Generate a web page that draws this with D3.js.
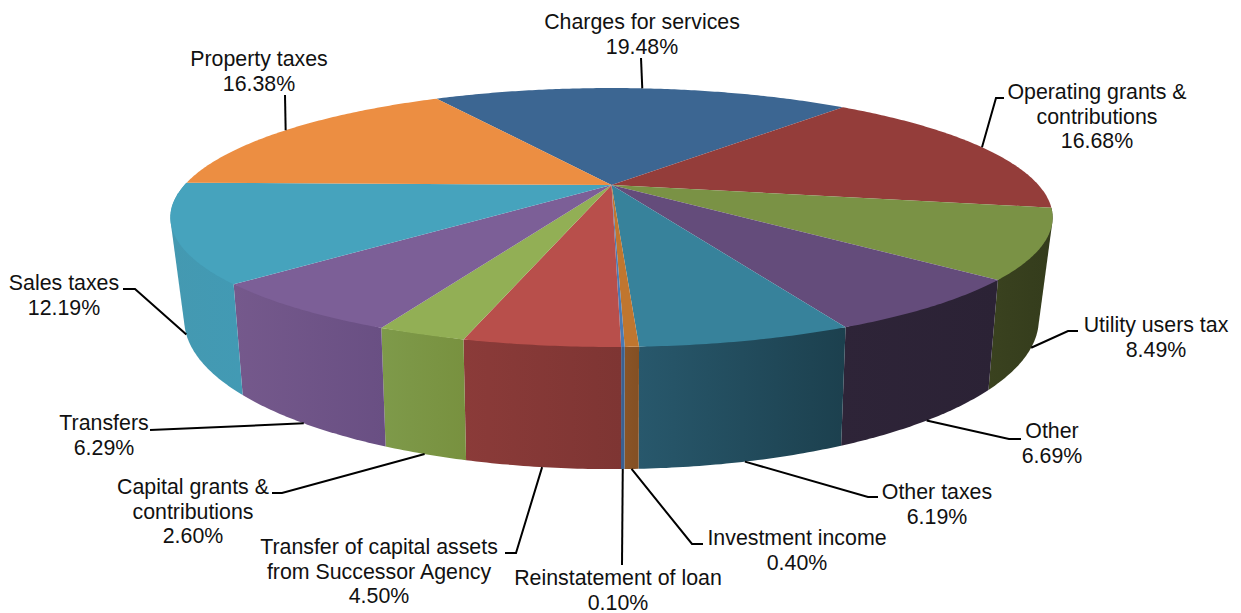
<!DOCTYPE html>
<html>
<head>
<meta charset="utf-8">
<style>
html,body{margin:0;padding:0;background:#fff;}
svg{display:block;}
text{font-family:"Liberation Sans",Arial,sans-serif;font-size:21.35px;fill:#111;}
</style>
<script src="https://cdn.jsdelivr.net/npm/d3@7/dist/d3.min.js"></script>
</head>
<body>
<svg id="chart" width="1241" height="613"></svg>
<script>
// Revenue shares, clockwise from the back of the disc
const categories = ["Charges for services","Operating grants & contributions","Utility users tax","Other","Other taxes","Investment income","Reinstatement of loan","Transfer of capital assets from Successor Agency","Capital grants & contributions","Transfers","Sales taxes","Property taxes"];
const shares = [19.48,16.68,8.49,6.69,6.19,0.40,0.10,4.50,2.60,6.29,12.19,16.38];

// Top-face fills and left/right side-wall fills
const topColors = ["#3c6692","#943d3a","#7a9245","#644c7b","#37829b","#c0762f","#4a7ab4","#b84f4b","#92af55","#7c5f97","#46a3bd","#ec8e42"];
const sideLeft = ["#2f4f72","#6d2d2b","#3a421f","#2e2438","#28586c","#8a5426","#3b6090","#8b3b39","#7e9a4a","#75598c","#4499b1","#b06a31"];
const sideRight = ["#2f4f72","#6d2d2b","#343c1c","#2b2235","#1c404e","#835024","#3b6090","#7e3533","#78913f","#694f83","#429ab4","#b06a31"];

// Text lines of each label
const labelLines = [
  ["Charges for services","19.48%"],
  ["Operating grants &","contributions","16.68%"],
  ["Utility users tax","8.49%"],
  ["Other","6.69%"],
  ["Other taxes","6.19%"],
  ["Investment income","0.40%"],
  ["Reinstatement of loan","0.10%"],
  ["Transfer of capital assets","from Successor Agency","4.50%"],
  ["Capital grants &","contributions","2.60%"],
  ["Transfers","6.29%"],
  ["Sales taxes","12.19%"],
  ["Property taxes","16.38%"]
];
// Label placement: text centre, first baseline, and leader bends
const labelCx = [642,1097,1156,1052,937,797,618,379,193,104,64,259];
const labelY = [29,99,332,438,499,545,585,554,494,430,290,66];
const leaderBends = [
  [[641,58]],
  [[996,98],[1004,98]],
  [[1068,331],[1078,331]],
  [[1009,439],[1021,439]],
  [[868,497],[878,497]],
  [[692,544],[703,544]],
  [[622,565]],
  [[516,553],[505,553]],
  [[282,493],[272,493]],
  [[150,430]],
  [[135,289],[123,289]],
  [[285,95]]
];

const cx = 611.5;
// Perspective parameters of the upper and lower discs
const upper = {y0:185, A:121.3, B:427, k:0.251};
const lower = {y0:280, A:139, B:412, k:0.265};
const project = (disc, a) => {
  const u = Math.sin(a), v = -Math.cos(a), w = 1 - disc.k * v;
  return [cx + disc.B * u / w, disc.y0 + disc.A * v / w];
};
const arcPoints = (disc, a0, a1) => {
  const n = Math.max(2, Math.ceil((a1 - a0) / 0.01));
  return d3.range(n + 1).map(i => project(disc, a0 + (a1 - a0) * i / n));
};

const startAngle = -29.9 * Math.PI / 180;
const pie = d3.pie().sort(null).startAngle(startAngle).endAngle(startAngle + 2 * Math.PI);
const slices = pie(shares);
const line = d3.line();
const svg = d3.select("#chart");
const defs = svg.append("defs");
const midAngle = s => (s.startAngle + s.endAngle) / 2;

// Side walls for the slices on the near half; the hull also fills the silhouette
// where the wall turns away, and the top face covers what it adds above the rim
const walls = svg.append("g");
slices.forEach((s, i) => {
  if (Math.cos(midAngle(s)) >= 0) return;
  const pts = arcPoints(upper, s.startAngle, s.endAngle).concat(arcPoints(lower, s.startAngle, s.endAngle));
  const xs = d3.extent(pts, p => p[0]);
  const g = defs.append("linearGradient").attr("id", "wall" + i)
    .attr("gradientUnits", "userSpaceOnUse")
    .attr("x1", xs[0]).attr("x2", xs[1]).attr("y1", 0).attr("y2", 0);
  g.append("stop").attr("offset", 0).attr("stop-color", sideLeft[i]);
  g.append("stop").attr("offset", 1).attr("stop-color", sideRight[i]);
  walls.append("path").attr("d", line(d3.polygonHull(pts)) + "Z").attr("fill", `url(#wall${i})`);
});

// Top face wedges
svg.append("g").selectAll("path").data(slices).join("path")
  .attr("fill", (d, i) => topColors[i])
  .attr("d", d => line([[cx, upper.y0]].concat(arcPoints(upper, d.startAngle, d.endAngle))) + "Z");

// Leaders start on the rim at each slice's mid angle
const leaders = svg.append("g").attr("fill", "none").attr("stroke", "#000").attr("stroke-width", 2);
slices.forEach((s, i) => {
  const mid = midAngle(s);
  const facing = Math.cos(mid) < -0.05;
  leaders.append("path").attr("d", line([project(facing ? lower : upper, mid)].concat(leaderBends[i])));
});

// Labels
const labels = svg.append("g").attr("text-anchor", "middle");
labelLines.forEach((lines, i) => {
  const t = labels.append("text").attr("x", labelCx[i]).attr("y", labelY[i]);
  lines.forEach((l, j) => t.append("tspan").attr("x", labelCx[i]).attr("dy", j ? 24.5 : 0).text(l));
});
</script>
</body>
</html>
